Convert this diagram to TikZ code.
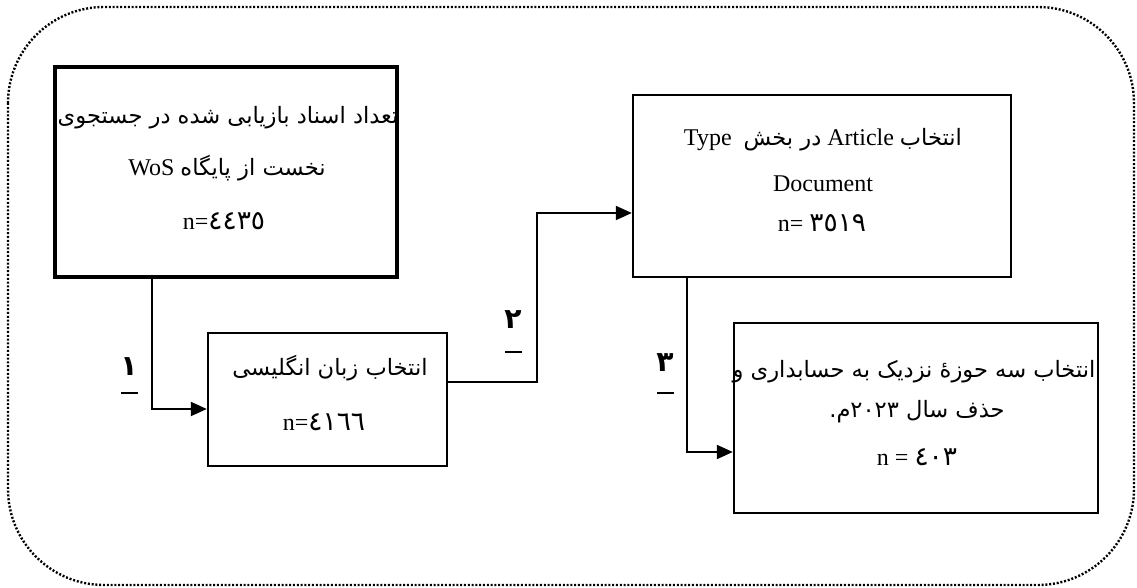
\documentclass[tikz,border=0pt]{standalone}
\usepackage{fontspec}
\setmainfont{Liberation Serif}
\newfontfamily\ar[Script=Arabic,Scale=0.94]{DejaVu Sans}
\newfontfamily\ardig[Script=Arabic,Scale=1.1]{DejaVu Sans}
\TeXXeTstate=1
\usetikzlibrary{arrows.meta}
\begin{document}
\begin{tikzpicture}[x=0.5pt,y=-0.5pt,
  box/.style={draw,rectangle,inner sep=0pt,line width=1.2pt},
  thickbox/.style={box,line width=2.2pt},
  txt/.style={inner sep=0pt,font=\fontsize{12}{14}\selectfont},
  lab/.style={inner sep=0pt,font=\fontsize{15}{17}\selectfont\ar\bfseries},
  arr/.style={line width=1pt,-{Triangle[length=8pt,width=7pt]}},
  uline/.style={line width=1pt},
  outer/.style={line width=1.2pt,dash pattern=on 1pt off 0.9pt,rounded corners=48pt}]
\useasboundingbox (0,0) rectangle (1137,588);
\fill[white] (0,0) rectangle (1137,588);
\draw[outer] (8,7) rectangle (1134,585);
% boxes
\node[thickbox,minimum width=171pt,minimum height=105pt] (b1) at (226,172) {};
\node[box,minimum width=119.5pt,minimum height=66.5pt] (b2) at (327.5,399.5) {};
\node[box,minimum width=189pt,minimum height=91pt] (b3) at (822,186) {};
\node[box,minimum width=182pt,minimum height=95pt] (b4) at (916,418) {};
% texts
\node[txt] (t1a) at (228,118) {\ar\beginR تعداد اسناد بازیابی شده در جستجوی\endR};
\node[txt] (t1b) at (227,168) {\beginR{\ar نخست از پایگاه} WoS\endR};
\node[txt] (t1c) at (224,221) {n={\ardig ٤٤٣٥}};
\node[txt] (t2a) at (330,368) {\ar\beginR انتخاب زبان انگلیسی\endR};
\node[txt] (t2b) at (324,422) {n={\ardig ٤١٦٦}};
\node[txt] (t3a) at (823,140) {\beginR{\ar انتخاب} Article {\ar در بخش}\ \ Type\endR};
\node[txt] (t3b) at (823,184) {Document};
\node[txt] (t3c) at (822,223) {n= {\ardig ٣٥١٩}};
\node[txt] (t4a) at (914,372) {\ar\beginR انتخاب سه حوزهٔ نزدیک به حسابداری و\endR};
\node[txt] (t4b) at (917,412) {\ar\beginR حذف سال ٢٠٢٣م.\endR};
\node[txt] (t4c) at (917,457) {n = {\ardig ٤٠٣}};
% connectors
\coordinate (k1) at (152,409);
\draw[arr] (k1 |- b1.south) -- (k1) -- (k1 -| b2.west);
\coordinate (k2a) at (537,382);
\coordinate (k2b) at (537,213);
\draw[arr] (k2a -| b2.east) -- (k2a) -- (k2b) -- (k2b -| b3.west);
\coordinate (k3) at (687,452);
\draw[arr] (k3 |- b3.south) -- (k3) -- (k3 -| b4.west);
% labels
\node[lab] (l1) at (129,367) {١};
\node[lab] (l2) at (513,320) {٢};
\node[lab] (l3) at (665,363) {٣};
\draw[uline] (121,393) -- (138,393);
\draw[uline] (505,352) -- (522,352);
\draw[uline] (657,393) -- (674,393);
\end{tikzpicture}
\end{document}
